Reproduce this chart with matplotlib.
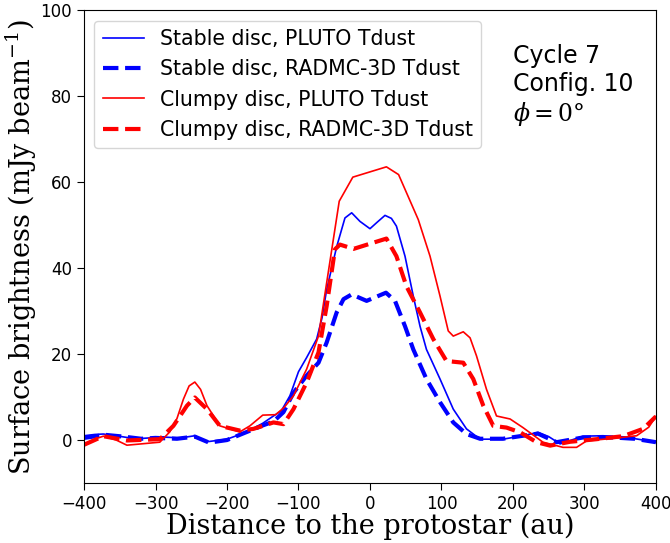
import matplotlib
matplotlib.use("Agg")
import matplotlib.pyplot as plt

# Stable disc, PLUTO Tdust
x_sp = [-400, -385, -373, -355, -340, -317, -290, -265, -245, -228, -200, -172, -150, -135, -124, -112, -100,
        -88.6, -74.6, -67, -60.6, -46.6, -35, -25.6, -14, 0, 10, 21, 30, 37, 49, 60.6, 70, 79, 98, 116.5, 135,
        154, 186, 214, 235, 250, 266, 298, 326, 364, 400]
y_sp = [1.0, 1.3, 1.4, 1.0, 0.6, 0.4, 0.7, 0.5, 1.0, -0.4, 0.2, 1.9, 3.9, 5.6, 6.8, 10.3, 15.9,
        19.2, 23.5, 28.5, 35, 45, 51.7, 52.9, 50.9, 49.2, 50.7, 52.3, 51.6, 49.8, 42.8, 33.5, 26.5, 21.1, 14.2, 7.2, 2.6,
        0.2, 0.2, 1.0, 1.8, 0.8, -0.9, 0.9, 1.0, 0.5, -0.5]

# Stable disc, RADMC-3D Tdust
x_sr = [-400, -370, -345, -320, -300, -270, -245, -225, -200, -172, -150, -135, -121, -107, -88.6, -72,
        -60.6, -46.6, -37, -25.6, -4.7, 22.4, 35, 49, 60.6, 79, 98, 116.5, 135, 154, 186, 214, 235, 261,
        298, 340, 370, 400]
y_sr = [0.5, 1.2, 0.8, 0.3, 0.5, 0.3, 0.8, -0.6, 0.0, 1.9, 3.4, 4.3, 6.5, 11, 15, 18,
        22.7, 29.7, 32.8, 33.9, 32.4, 34.3, 32.4, 26.5, 21.1, 14.2, 8.8, 4.1, 1.4, 0.3, 0.3, 1.0, 1.5, -0.5,
        0.6, 0.6, 0.3, -0.5]

# Clumpy disc, PLUTO Tdust
x_cp = [-400, -385, -373, -355, -340, -294, -280, -270, -261, -253, -245, -237, -228, -210, -182, -168,
        -150, -132, -120, -107, -88.6, -72, -60.6, -43, -24, 23, 40, 67.6, 84, 98, 109.5, 116.5, 130.5, 140,
        149, 163, 177, 196, 214, 242, 270, 289, 303, 340, 373, 390, 400]
y_cp = [-1.3, 0.2, 0.9, 0.0, -1.2, -0.5, 1.9, 5.0, 9.5, 12.6, 13.5, 11.8, 8.0, 3.3, 1.9, 3.3,
        5.8, 5.9, 7.6, 10.3, 16.5, 24.2, 36.6, 55.6, 61.2, 63.6, 61.8, 51.3, 42.8, 33.5, 25.4, 24.2, 25.2, 23.8,
        19.6, 11.8, 5.6, 4.9, 2.9, -0.5, -1.7, -1.7, -0.2, 0.4, 1.0, 3.0, 5.5]

# Clumpy disc, RADMC-3D Tdust
x_cr = [-400, -373, -340, -294, -275, -256, -245, -228, -210, -182, -163, -135, -121, -107, -88.6, -72,
        -60.6, -49, -42, -23, 23, 37, 51, 70, 88.6, 107, 130.5, 144.5, 158.5, 172.5, 191, 210, 233, 252,
        280, 317, 354, 382, 400]
y_cr = [-1.1, 0.9, -0.1, 0.2, 3.3, 8.0, 9.9, 7.2, 3.3, 2.2, 2.6, 4.1, 3.7, 7.2, 13.4, 20.4,
        31.2, 44.4, 45.5, 44.5, 46.9, 42.8, 35.8, 29.7, 23.5, 18.4, 18.0, 14.2, 8.0, 3.3, 2.9, 1.8, -0.5, -1.3,
        -0.4, 0.2, 0.9, 2.6, 5.5]

labels = ["Stable disc, PLUTO Tdust", "Stable disc, RADMC-3D Tdust",
          "Clumpy disc, PLUTO Tdust", "Clumpy disc, RADMC-3D Tdust"]

plt.rcParams['mathtext.fontset'] = 'dejavuserif'

fig = plt.figure(figsize=(6.7, 5.43), dpi=100)
ax = fig.add_axes([0.1254, 0.1105, 0.979 - 0.1254, 0.9807 - 0.1105])

ax.plot(x_sp, y_sp, color='blue', lw=1.2, label=labels[0])
ax.plot(x_sr, y_sr, color='blue', lw=3, ls='--', label=labels[1])
ax.plot(x_cp, y_cp, color='red', lw=1.2, label=labels[2])
ax.plot(x_cr, y_cr, color='red', lw=3, ls='--', label=labels[3])

ax.set_xlim(-400, 400)
ax.set_ylim(-10, 100)
ax.set_xticks([-400, -300, -200, -100, 0, 100, 200, 300, 400])
ax.set_yticks([0, 20, 40, 60, 80, 100])
ax.tick_params(labelsize=12, direction='out', length=5)

ax.set_xlabel("Distance to the protostar (au)", family='DejaVu Serif', fontsize=19.5, labelpad=0)
ax.set_ylabel(r"Surface brightness (mJy beam$^{-1}$)", family='DejaVu Serif', fontsize=19.5, labelpad=1)

ax.legend(loc='upper left', fontsize=14.8, borderaxespad=0.5)
ax.text(0.7495, 0.929, "Cycle 7\nConfig. 10\n$\\phi = 0°$", transform=ax.transAxes,
        fontsize=17, va='top', ha='left', linespacing=1.2)

fig.savefig("out.png", dpi=100)
